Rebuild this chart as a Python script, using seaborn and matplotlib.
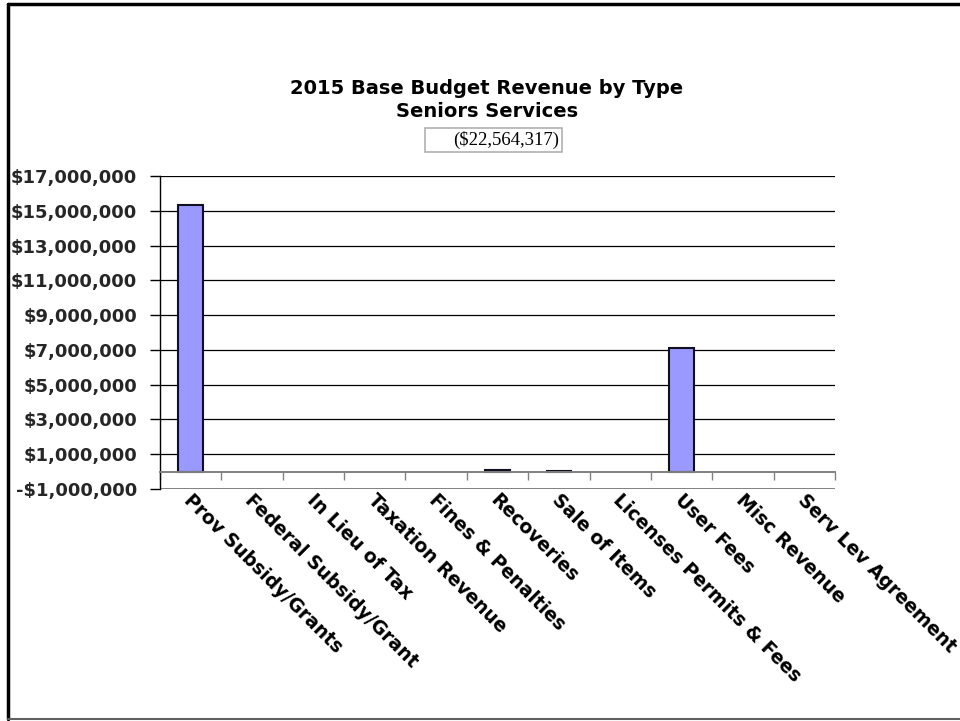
import matplotlib
matplotlib.use("Agg")
import matplotlib.pyplot as plt
from matplotlib.lines import Line2D
from matplotlib.patches import Rectangle
from matplotlib.ticker import FixedLocator, FuncFormatter
import seaborn as sns
import pandas as pd

categories = [
    "Prov Subsidy/Grants", "Federal Subsidy/Grant", "In Lieu of Tax",
    "Taxation Revenue", "Fines & Penalties", "Recoveries", "Sale of Items",
    "Licenses Permits & Fees", "User Fees", "Misc Revenue", "Serv Lev Agreement",
]
revenue = [15340000, 0, 0, 0, 0, 90000, 50000, 0, 7084317, 0, 0]
y_ticks = [-1000000, 1000000, 3000000, 5000000, 7000000, 9000000,
           11000000, 13000000, 15000000, 17000000]
title = "2015 Base Budget Revenue by Type\nSeniors Services"
total_label = "($22,564,317)"

df = pd.DataFrame({"category": categories, "revenue": revenue})

sns.set_theme(style="white")
plt.rcParams["font.family"] = ["DejaVu Sans"]

W, H = 960, 721
fig = plt.figure(figsize=(W / 100, H / 100), dpi=100)
fig.patch.set_facecolor("white")

ax = fig.add_axes([160 / W, (H - 489) / H, (835 - 160) / W, (489 - 176) / H])
ax.set_facecolor("white")

sns.barplot(data=df, x="category", y="revenue", color="#9999FF",
            saturation=1, edgecolor="#101020", linewidth=1.5, width=0.4,
            ax=ax, zorder=3)
# empty categories get no outline
for patch in ax.patches:
    if patch.get_height() == 0:
        patch.set_linewidth(0)

ax.set_xlim(-0.5, len(categories) - 0.5)
ax.set_ylim(y_ticks[0], y_ticks[-1])

# y axis: dollar ticks with horizontal gridlines
ax.yaxis.set_major_locator(FixedLocator(y_ticks))
ax.yaxis.set_major_formatter(FuncFormatter(
    lambda v, _: ("-$" if v < 0 else "$") + f"{abs(int(v)):,}"))
ax.tick_params(axis="y", which="major", direction="out", length=7, width=1,
               color="black", pad=9.5, labelsize=13, left=True)
for lab in ax.get_yticklabels():
    lab.set_fontweight("bold")
ax.yaxis.grid(True, color="black", linewidth=0.9)
ax.set_axisbelow(True)
ax.get_ygridlines()[0].set_color("#808080")
ax.get_ygridlines()[0].set_linewidth(1.4)

# category axis sits on the zero line, ticks between categories
for side in ("top", "right"):
    ax.spines[side].set_visible(False)
ax.spines["left"].set_color("black")
ax.spines["left"].set_linewidth(1.0)
ax.spines["bottom"].set_position(("data", 0))
ax.spines["bottom"].set_color("#808080")
ax.spines["bottom"].set_linewidth(1.4)
ax.spines["bottom"].set_zorder(4)
ax.set_xticks(range(len(categories)))
ax.set_xticklabels([])
ax.tick_params(axis="x", which="major", length=0)
ax.set_xticks([i - 0.5 for i in range(len(categories) + 1)], minor=True)
ax.tick_params(axis="x", which="minor", direction="out", length=6, width=1,
               color="#808080", bottom=True)
ax.set_xlabel("")
ax.set_ylabel("")

# rotated category labels below the plot area
for i, name in enumerate(categories):
    ax.annotate(name, xy=(i, y_ticks[0]), xycoords="data",
                xytext=(2, -1), textcoords="offset points",
                rotation=-45, rotation_mode="anchor", ha="left", va="top",
                fontsize=13.5, fontweight="bold", color="black")

# titles
fig.text(487 / W, 1 - 100 / H, title, ha="center", va="center",
         fontsize=14, fontweight="bold", color="black", linespacing=1.3)
fig.text(559 / W, 1 - 140 / H, total_label, ha="right", va="center",
         fontsize=13.5, family=["Liberation Serif", "DejaVu Serif"],
         color="black")
fig.add_artist(Rectangle((425 / W, 1 - 152 / H), (562 - 425) / W, 24 / H,
                         transform=fig.transFigure, fill=False,
                         edgecolor="#b0b0b0", linewidth=1.2))

# page frame
fig.add_artist(Line2D([8 / W, 8 / W], [1 - 719 / H, 1 - 4 / H],
                      transform=fig.transFigure, color="black", linewidth=2.5))
fig.add_artist(Line2D([8 / W, 1.0], [1 - 4 / H, 1 - 4 / H],
                      transform=fig.transFigure, color="black", linewidth=2.5))
fig.add_artist(Line2D([8 / W, 1.0], [1 - 719 / H, 1 - 719 / H],
                      transform=fig.transFigure, color="#606060", linewidth=1.5))

fig.savefig("out.png", dpi=100, facecolor="white")
